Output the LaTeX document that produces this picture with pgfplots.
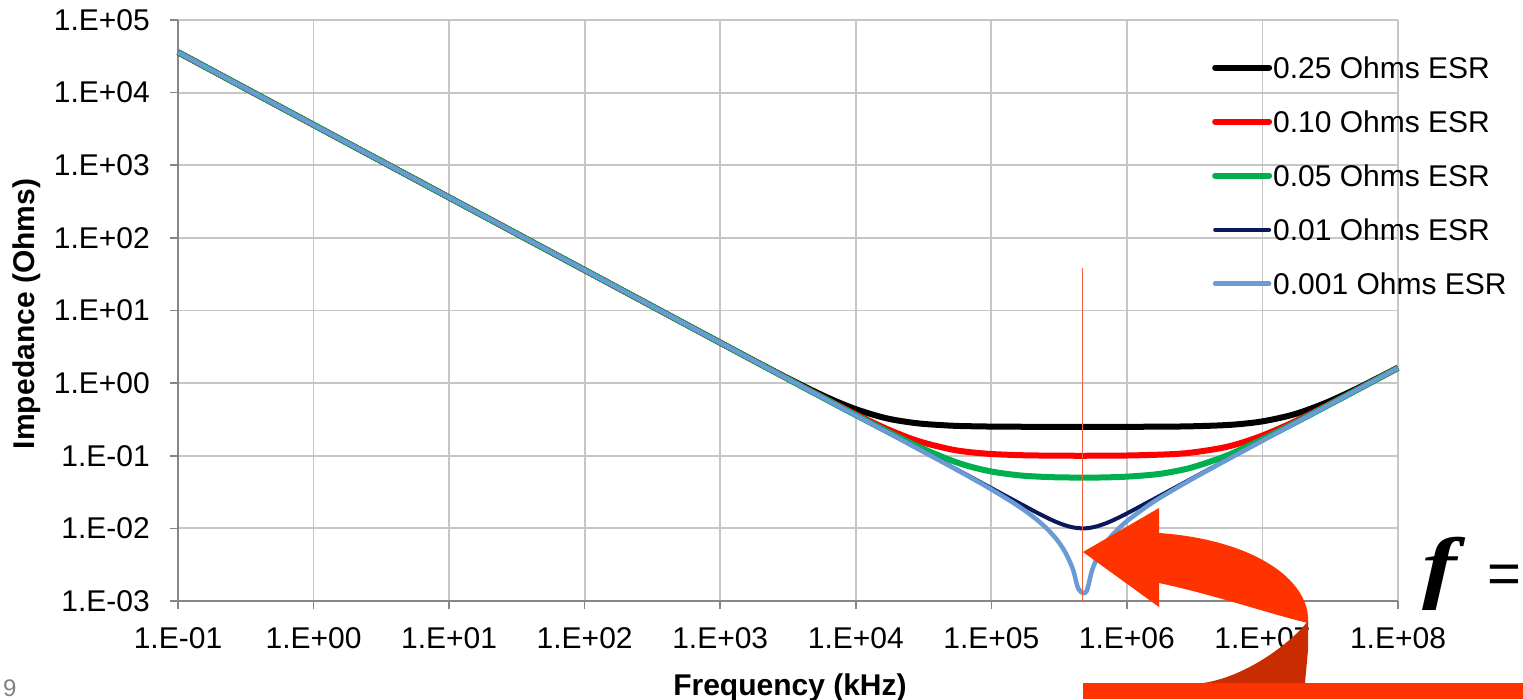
\documentclass[border=0pt]{standalone}
\usepackage{pgfplots}
\pgfplotsset{compat=1.18}
\usepackage{fontspec}
\setmainfont{Liberation Sans}
\newfontfamily\timesf{Liberation Serif}
\definecolor{gridgray}{RGB}{198,198,198}
\definecolor{axisgray}{RGB}{134,134,134}
\definecolor{cred}{RGB}{255,0,0}
\definecolor{cgreen}{RGB}{0,176,80}
\definecolor{cnavy}{RGB}{12,24,92}
\definecolor{clblue}{RGB}{106,155,212}
\definecolor{vline}{RGB}{240,96,60}
\definecolor{arrowred}{RGB}{255,51,0}
\definecolor{arrowdark}{RGB}{200,44,0}
\begin{document}
\begin{tikzpicture}[x=1pt,y=1pt]
\useasboundingbox (0,0) rectangle (1523,699);
\begin{axis}[
  at={(178pt,98pt)}, anchor=south west,
  scale only axis, width=1220pt, height=581pt,
  xmode=log, ymode=log,
  xmin=0.1, xmax=1e8, ymin=1e-3, ymax=1e5,
  xtick={1e-1,1,10,100,1000,1e4,1e5,1e6,1e7,1e8},
  xticklabels={1.E-01,1.E+00,1.E+01,1.E+02,1.E+03,1.E+04,1.E+05,1.E+06,1.E+07,1.E+08},
  ytick={1e-3,1e-2,1e-1,1,10,100,1000,1e4,1e5},
  yticklabels={1.E-03,1.E-02,1.E-01,1.E+00,1.E+01,1.E+02,1.E+03,1.E+04,1.E+05},
  xminorticks=false, yminorticks=false,
  grid=major, major grid style={color=gridgray, line width=1.8pt},
  axis x line=bottom, axis y line=left,
  axis line style={-, color=axisgray, line width=1.8pt},
  tick align=outside, major tick length=8pt,
  tick style={color=axisgray, line width=1.6pt},
  ticklabel style={font=\fontsize{30}{36}\selectfont, inner sep=0pt},
  xticklabel style={anchor=north, yshift=-18pt},
  yticklabel style={anchor=east, xshift=-20pt},
  xlabel={\bfseries Frequency (kHz)},
  ylabel={\bfseries Impedance (Ohms)},
  label style={font=\fontsize{30}{36}\selectfont},
  xlabel style={at={(axis description cs:0.5016,-0.162)}, anchor=base, inner sep=0pt},
  ylabel style={at={(axis description cs:-0.1238,0.494)}, anchor=center, inner sep=0pt},
  clip=false,
  legend cell align=left,
  legend style={at={(0.8475,0.939)}, anchor=north west, draw=none, fill=none,
    font=\fontsize{30}{36}\selectfont, row sep=30pt, inner sep=0pt,
    nodes={inner sep=1pt, text height=22pt, text depth=0pt},
    /tikz/every even column/.append style={column sep=1pt}},
  legend image code/.code={\draw[#1, line cap=round] (0pt,0pt) -- (54pt,0pt);},
  every axis plot/.append style={smooth, tension=0.55, line join=round},
]
\addplot[black, line width=6pt] coordinates {
(0.1,36000) (1,3600) (10,360) (100,36) (1000,3.6087) (2000,1.8173) (3000,1.2258)
(5000,0.7622) (7000,0.5718) (1e4,0.4381) (1.5e4,0.3464) (2e4,0.3079) (3e4,0.2771)
(5e4,0.2599) (7e4,0.2550) (1e5,0.2524) (2e5,0.25044) (5e5,0.25) (1e6,0.25032)
(2e6,0.25186) (3e6,0.25443) (5e6,0.26251) (7e6,0.27419) (1e7,0.29749) (1.5e7,0.34805)
(2e7,0.40846) (3e7,0.54536) (5e7,0.84572) (1e8,1.6352)};
\addlegendentry{0.25 Ohms ESR}
\addplot[cred, line width=6pt] coordinates {
(0.1,36000) (1,3600) (10,360) (100,36) (1000,3.6014) (2000,1.8028) (3000,1.2042)
(5000,0.7269) (7000,0.5238) (1e4,0.3734) (1.5e4,0.2598) (2e4,0.2056) (3e4,0.1558)
(5e4,0.1228) (7e4,0.1119) (1e5,0.10575) (1.5e5,0.10231) (2e5,0.10109) (3e5,0.10026)
(5e5,0.1) (1e6,0.10079) (2e6,0.10455) (3e6,0.11061) (5e6,0.12811) (7e6,0.1506)
(1e7,0.18974) (1.5e7,0.2620) (2e7,0.33814) (3e7,0.49488) (5e7,0.81409) (1e8,1.6191)};
\addlegendentry{0.10 Ohms ESR}
\addplot[cgreen, line width=6pt] coordinates {
(0.1,36000) (1,3600) (10,360) (100,36) (1000,3.6003) (2000,1.8007) (3000,1.2010)
(5000,0.7217) (7000,0.5166) (1e4,0.36326) (1.5e4,0.2449) (2e4,0.18652) (3e4,0.12954)
(5e4,0.08701) (7e4,0.07092) (1e5,0.06069) (1.5e5,0.05447) (2e5,0.05214) (3e5,0.05051)
(5e5,0.05001) (7e5,0.05038) (1e6,0.05156) (1.5e6,0.05456) (2e6,0.05857) (3e6,0.06881)
(5e6,0.09441) (7e6,0.1232) (1e7,0.16882) (1.5e7,0.24726) (2e7,0.32686) (3e7,0.48724)
(5e7,0.80947) (1e8,1.6168)};
\addlegendentry{0.05 Ohms ESR}
\addplot[cnavy, line width=4pt] coordinates {
(0.1,36000) (1,3600) (10,360) (100,36) (1000,3.6) (2000,1.8) (5000,0.72)
(1e4,0.3598) (1.5e4,0.23997) (2e4,0.1797) (3e4,0.11954) (5e4,0.0719) (7e4,0.05128)
(1e5,0.03582) (1.5e5,0.02381) (2e5,0.01786) (2.5e5,0.0144) (3e5,0.01229) (3.5e5,0.01102)
(4e5,0.01032) (4.4e5,0.010057) (5e5,0.010038) (5.5e5,0.01027) (6e5,0.01066) (7e5,0.01175)
(8e5,0.01308) (1e6,0.01606) (1.5e6,0.02402) (2e6,0.03211) (3e6,0.04832) (5e6,0.0807)
(7e6,0.11265) (1e7,0.16127) (2e7,0.32304) (5e7,0.80794) (1e8,1.616)};
\addlegendentry{0.01 Ohms ESR}
\addplot[clblue, line width=4.5pt] coordinates {
(0.1,36000) (1,3600) (10,360) (100,36) (1000,3.6) (2000,1.8) (5000,0.72)
(1e4,0.3598) (1.5e4,0.23976) (2e4,0.1797) (3e4,0.1195) (5e4,0.0712) (7e4,0.0503)
(1e5,0.0344) (1.5e5,0.02162) (2e5,0.01483) (2.5e5,0.01041) (3e5,0.00722) (3.5e5,0.00473)
(4e5,0.002726) (4.4e5,0.001463) (5e5,0.00133) (5.5e5,0.002546) (6e5,0.003833)
(7e5,0.006253) (8e5,0.00849) (1e6,0.0126) (1.5e6,0.02186) (2e6,0.03054) (3e6,0.04729)
(5e6,0.08008) (7e6,0.1126) (1e7,0.16124) (2e7,0.32302) (5e7,0.808) (1e8,1.616)};
\addlegendentry{0.001 Ohms ESR}
\addplot[vline, line width=1.5pt, sharp plot, forget plot] coordinates {(4.72e5,38) (4.72e5,0.001)};
\end{axis}
% decorative slide elements
\fill[arrowred] (1083,0) rectangle (1523,16);
\fill[arrowred] (1159,166) .. controls (1245,160) and (1305,125) .. (1308,82)
  -- (1308,76) .. controls (1270,85) and (1215,104) .. (1159,116)
  -- (1159,92) -- (1083,147) -- (1159,191) -- cycle;
\fill[arrowdark] (1308,78) -- (1308,49) -- (1305,16) -- (1203,16)
  .. controls (1245,22) and (1290,55) .. (1308,78) -- cycle;
\node[anchor=base west, inner sep=0pt, xscale=1.3, font=\fontsize{80}{90}\timesf\bfseries\itshape] at (1422,106) {f};
\node[anchor=base west, inner sep=0pt, font=\fontsize{58}{66}\selectfont] at (1487,106) {=};
\node[anchor=base west, inner sep=0pt, text=gray, font=\fontsize{24}{28}\selectfont] at (3,3) {9};
\end{tikzpicture}
\end{document}
